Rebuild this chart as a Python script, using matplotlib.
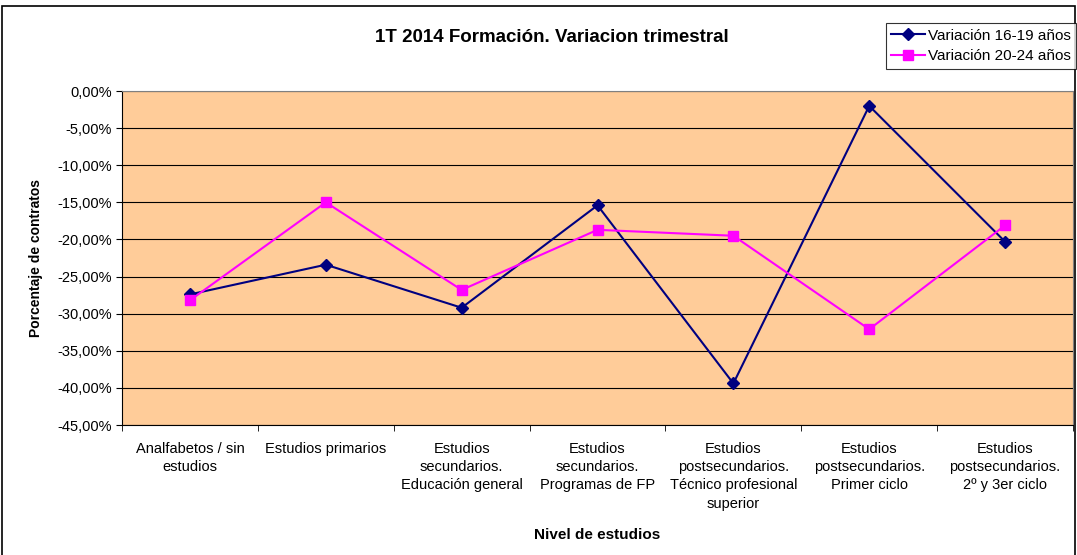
import matplotlib
matplotlib.use("Agg")
import matplotlib.pyplot as plt
from matplotlib.ticker import FixedLocator, FuncFormatter

plt.rcParams["font.family"] = ["Liberation Sans", "DejaVu Sans"]

categorias = ["Analfabetos / sin\nestudios",
              "Estudios primarios",
              "Estudios\nsecundarios.\nEducación general",
              "Estudios\nsecundarios.\nProgramas de FP",
              "Estudios\npostsecundarios.\nTécnico profesional\nsuperior",
              "Estudios\npostsecundarios.\nPrimer ciclo",
              "Estudios\npostsecundarios.\n2º y 3er ciclo"]
var_16_19 = [-27.4, -23.4, -29.2, -15.4, -39.4, -2.0, -20.3]
var_20_24 = [-28.2, -15.0, -26.8, -18.7, -19.5, -32.1, -18.1]

fig = plt.figure(figsize=(10.77, 5.55), dpi=100)
ax = fig.add_axes([0.1133, 0.2342, 0.883, 0.6018])
ax.set_facecolor("#FFCC99")

x = list(range(len(categorias)))
ax.plot(x, var_16_19, color="#000080", marker="D", markersize=6, lw=1.5,
        label="Variación 16-19 años", zorder=3)
ax.plot(x, var_20_24, color="#FF00FF", marker="s", markersize=6.5, lw=1.5,
        label="Variación 20-24 años", zorder=3)

ax.set_xlim(-0.5, 6.5)
ax.set_ylim(-45, 0)
ax.set_yticks(range(-45, 1, 5))
ax.yaxis.set_major_formatter(FuncFormatter(lambda v, p: ("%.2f%%" % v).replace(".", ",")))
ax.grid(axis="y", color="black", lw=0.8)
ax.set_axisbelow(True)

ax.set_xticks(x)
ax.set_xticklabels(categorias, fontsize=10.5, linespacing=1.4, va="top")
ax.tick_params(axis="x", which="major", length=0, pad=12)
ax.xaxis.set_minor_locator(FixedLocator([i - 0.5 for i in range(len(categorias) + 1)]))
ax.tick_params(axis="x", which="minor", length=4, direction="out")
ax.tick_params(axis="y", labelsize=10.5, length=4, direction="out")

for s in ["top", "right"]:
    ax.spines[s].set_color("#808080")
for s in ["left", "bottom"]:
    ax.spines[s].set_color("black")

ax.set_xlabel("Nivel de estudios", fontsize=11, fontweight="bold", labelpad=12)
ax.set_ylabel("Porcentaje de contratos", fontsize=10, fontweight="bold", labelpad=10)
fig.text(0.512, 0.932, "1T 2014 Formación. Variacion trimestral", fontsize=13.5,
         fontweight="bold", ha="center", va="center")

leg = fig.legend(loc="upper right", bbox_to_anchor=(1.006, 0.972), fontsize=11,
                 frameon=True, fancybox=False, edgecolor="black",
                 borderpad=0.35, handlelength=2.2, handletextpad=0.2, labelspacing=0.45)
leg.get_frame().set_linewidth(0.8)

fig.patches.append(plt.Rectangle((0.002, -0.01), 0.996, 1.0, transform=fig.transFigure,
                                 fill=False, edgecolor="black", lw=1.2))

fig.savefig("out.png", dpi=100)
